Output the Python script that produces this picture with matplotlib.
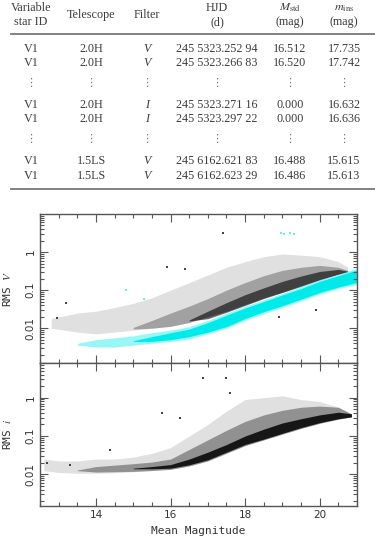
import matplotlib
matplotlib.use("Agg")
import matplotlib.pyplot as plt
from matplotlib.ticker import FixedLocator, FixedFormatter, LogLocator, MultipleLocator, NullFormatter

# ---- table content ----
col_heads = ["Variable\nstar ID", "Telescope", "Filter", "HJD\n(d)",
             "$M_{\\rm std}$\n(mag)", "$m_{\\rm ins}$\n(mag)"]
rows = [
    ["V1", "2.0H", "V", "245 5323.252 94", "16.512", "17.735"],
    ["V1", "2.0H", "V", "245 5323.266 83", "16.520", "17.742"],
    None,
    ["V1", "2.0H", "I", "245 5323.271 16", "0.000", "16.632"],
    ["V1", "2.0H", "I", "245 5323.297 22", "0.000", "16.636"],
    None,
    ["V1", "1.5LS", "V", "245 6162.621 83", "16.488", "15.615"],
    ["V1", "1.5LS", "V", "245 6162.623 29", "16.486", "15.613"],
]

# ---- RMS V panel: cyan sequence ----
cyan_mag = [13.5, 14.0, 14.5, 15.0, 15.5, 16.0, 16.5, 17.0, 17.5, 18.0, 18.5, 19.0, 19.5, 20.0, 20.5, 21.0]
cyan_lo = [0.0036, 0.0032, 0.0032, 0.0036, 0.0040, 0.0045, 0.0052, 0.0071, 0.010, 0.016, 0.024, 0.035, 0.052, 0.079, 0.11, 0.14]
cyan_hi = [0.0040, 0.0050, 0.0056, 0.0063, 0.0076, 0.0089, 0.011, 0.016, 0.025, 0.038, 0.056, 0.083, 0.126, 0.19, 0.26, 0.38]
cyan_core_mag = [15.0, 15.5, 16.0, 16.5, 17.0, 17.5, 18.0, 18.5, 19.0, 19.5, 20.0, 20.5, 21.0]
cyan_core_lo = [0.0045, 0.0045, 0.0050, 0.0060, 0.0079, 0.011, 0.018, 0.027, 0.039, 0.058, 0.087, 0.12, 0.16]
cyan_core_hi = [0.0047, 0.0060, 0.0076, 0.0095, 0.014, 0.022, 0.034, 0.050, 0.075, 0.11, 0.17, 0.24, 0.34]
cyan_out_mag = [18.95, 19.05, 19.2, 19.3, 14.8, 15.3]
cyan_out_rms = [3.2, 3.0, 3.1, 2.9, 0.1, 0.06]

# ---- RMS V panel: black stars ----
bv_mag = [12.8, 13.5, 14.0, 14.5, 15.0, 15.5, 16.0, 16.5, 17.0, 17.5, 18.0, 18.5, 19.0, 19.5, 20.0, 20.5, 20.75]
bv_lo = [0.010, 0.0079, 0.0071, 0.0079, 0.0089, 0.010, 0.0112, 0.0141, 0.020, 0.028, 0.042, 0.063, 0.089, 0.132, 0.191, 0.263, 0.316]
bv_hi = [0.018, 0.025, 0.028, 0.035, 0.045, 0.063, 0.10, 0.158, 0.251, 0.398, 0.562, 0.759, 0.891, 0.832, 0.759, 0.562, 0.398]
bvm_mag = [15.0, 15.5, 16.0, 16.5, 17.0, 17.5, 18.0, 18.5, 19.0, 19.5, 20.0, 20.5, 20.75]
bvm_lo = [0.0095, 0.010, 0.0112, 0.0141, 0.020, 0.028, 0.042, 0.063, 0.089, 0.132, 0.191, 0.263, 0.316]
bvm_hi = [0.0105, 0.016, 0.025, 0.038, 0.060, 0.10, 0.158, 0.24, 0.331, 0.398, 0.447, 0.398, 0.331]
bvc_mag = [16.5, 17.0, 17.5, 18.0, 18.5, 19.0, 19.5, 20.0, 20.5, 20.75]
bvc_lo = [0.0155, 0.0178, 0.0263, 0.0398, 0.0603, 0.0871, 0.126, 0.186, 0.263, 0.302]
bvc_hi = [0.0165, 0.028, 0.047, 0.076, 0.115, 0.17, 0.235, 0.31, 0.35, 0.316]
bv_out_mag = [12.95, 13.2, 15.9, 17.4, 16.4, 19.9, 18.9]
bv_out_rms = [0.019, 0.046, 0.40, 3.2, 0.35, 0.03, 0.02]

# ---- RMS i panel ----
bi_mag = [12.6, 13.0, 13.5, 14.0, 14.5, 15.0, 15.5, 16.0, 16.5, 17.0, 17.5, 18.0, 18.5, 19.0, 19.5, 20.0, 20.5, 20.85]
bi_lo = [0.0126, 0.0112, 0.0107, 0.0107, 0.011, 0.0117, 0.0126, 0.0135, 0.0166, 0.0224, 0.0355, 0.0562, 0.0794, 0.112, 0.158, 0.214, 0.275, 0.316]
bi_hi = [0.0251, 0.0224, 0.0224, 0.0251, 0.0251, 0.0282, 0.0355, 0.050, 0.10, 0.20, 0.447, 0.891, 1.0, 1.12, 0.891, 0.794, 0.562, 0.38]
bim_mag = [13.5, 14.0, 15.0, 15.5, 16.0, 16.5, 17.0, 17.5, 18.0, 18.5, 19.0, 19.5, 20.0, 20.5, 20.85]
bim_lo = [0.0125, 0.0115, 0.0120, 0.0126, 0.0135, 0.0166, 0.0224, 0.0355, 0.0562, 0.0794, 0.112, 0.158, 0.214, 0.275, 0.316]
bim_hi = [0.0130, 0.016, 0.019, 0.021, 0.0251, 0.0447, 0.0794, 0.141, 0.24, 0.355, 0.468, 0.562, 0.603, 0.562, 0.38]
bic_mag = [15.0, 15.5, 16.0, 16.5, 17.0, 17.5, 18.0, 18.5, 19.0, 19.5, 20.0, 20.5, 20.85]
bic_lo = [0.0140, 0.0140, 0.0145, 0.0178, 0.0240, 0.0380, 0.0603, 0.0832, 0.118, 0.166, 0.224, 0.282, 0.316]
bic_hi = [0.0145, 0.0160, 0.0180, 0.0251, 0.038, 0.060, 0.10, 0.151, 0.219, 0.282, 0.355, 0.417, 0.38]
bi_out_mag = [16.87, 17.5, 17.6, 16.25, 14.37, 15.76, 12.7, 13.3]
bi_out_rms = [3.2, 3.3, 1.3, 0.30, 0.043, 0.40, 0.02, 0.018]

W, H = 375, 537
fig = plt.figure(figsize=(W / 100, H / 100), dpi=100)
plt.rcParams["mathtext.fontset"] = "stix"


def fx(px):
    return px / W


def fy(py):
    return 1 - py / H


# table
tcol = "#3c3c3c"
serif = "Liberation Serif"
xs = [31, 91, 147, 217, 290, 344]
for x, h in zip(xs, col_heads):
    fig.text(fx(x), fy(15), h, ha="center", va="center", family=serif,
             fontsize=8.7, color=tcol, linespacing=1.25)
fig.add_artist(plt.Line2D([fx(11), fx(375)], [fy(34), fy(34)], color="#777777", lw=1.3))
fig.add_artist(plt.Line2D([fx(11), fx(375)], [fy(189), fy(189)], color="#777777", lw=1.3))
row_y = [49, 63, 83, 105, 119, 139, 161, 176]
for y, r in zip(row_y, rows):
    if r is None:
        for x in xs:
            fig.text(fx(x), fy(y), "\u22ee", ha="center", va="center",
                     family="DejaVu Sans", fontsize=8, color="#777777")
        continue
    for i, (x, t) in enumerate(zip(xs, r)):
        style = "italic" if i == 2 else "normal"
        fig.text(fx(x), fy(y), t, ha="center", va="center", family=serif,
                 fontsize=8.7, color=tcol, style=style)

ax1 = fig.add_axes([fx(40), fy(363), fx(357) - fx(40), fy(214) - fy(363)])
ax2 = fig.add_axes([fx(40), fy(506), fx(357) - fx(40), fy(363) - fy(506)])

# RMS V panel: sparse, medium and dense parts of the star cloud
ax1.fill_between(bv_mag, bv_lo, bv_hi, color="black", alpha=0.12, lw=0)
ax1.fill_between(bvm_mag, bvm_lo, bvm_hi, color="black", alpha=0.28, lw=0)
ax1.fill_between(bvc_mag, bvc_lo, bvc_hi, color="black", alpha=0.6, lw=0)
ax1.fill_between(cyan_mag, cyan_lo, cyan_hi, color="#33eeee", alpha=0.5, lw=0)
ax1.fill_between(cyan_core_mag, cyan_core_lo, cyan_core_hi, color="#00eaea", lw=0)
ax1.scatter(bv_out_mag, bv_out_rms, s=0.7, marker="s", color="#444444", lw=0)
ax1.scatter(cyan_out_mag, cyan_out_rms, s=0.7, marker="s", color="#66eeee", lw=0)
ax1.set_yscale("log")
ax1.set_ylim(0.00122, 10)

# RMS i panel
ax2.fill_between(bi_mag, bi_lo, bi_hi, color="black", alpha=0.12, lw=0)
ax2.fill_between(bim_mag, bim_lo, bim_hi, color="black", alpha=0.35, lw=0)
ax2.fill_between(bic_mag, bic_lo, bic_hi, color="black", alpha=0.85, lw=0)
ax2.scatter(bi_out_mag, bi_out_rms, s=0.7, marker="s", color="#444444", lw=0)
ax2.set_yscale("log")
ax2.set_ylim(0.0015, 8)

for ax in (ax1, ax2):
    ax.set_xlim(12.5, 21)
    ax.xaxis.set_major_locator(FixedLocator([14, 16, 18, 20]))
    ax.xaxis.set_minor_locator(MultipleLocator(0.5))
    ax.yaxis.set_major_locator(FixedLocator([0.01, 0.1, 1]))
    ax.yaxis.set_major_formatter(FixedFormatter(["0.01", "0.1", "1"]))
    ax.yaxis.set_minor_locator(LogLocator(base=10, subs=range(2, 10)))
    ax.yaxis.set_minor_formatter(NullFormatter())
    ax.tick_params(which="both", direction="in", top=True, right=True,
                   color="#555555", width=0.8)
    ax.tick_params(which="major", length=6)
    ax.tick_params(which="minor", length=3)
    ax.tick_params(axis="both", labelsize=7.5, labelcolor="#333333", pad=3)
    for lbl in ax.get_yticklabels():
        lbl.set_rotation(90)
        lbl.set_va("center")
    for s in ax.spines.values():
        s.set_color("#555555")
        s.set_linewidth(1.0)

ax1.tick_params(labelbottom=False)
mono = "DejaVu Sans Mono"
ax1.set_ylabel("RMS $\\mathit{V}$", family=mono, fontsize=8, color="#333333", labelpad=9)
ax2.set_ylabel("RMS $\\mathit{i}$", family=mono, fontsize=8, color="#333333", labelpad=9)
ax2.set_xlabel("Mean Magnitude", family=mono, fontsize=8, color="#333333", labelpad=4)

fig.savefig("out.png", dpi=100)
